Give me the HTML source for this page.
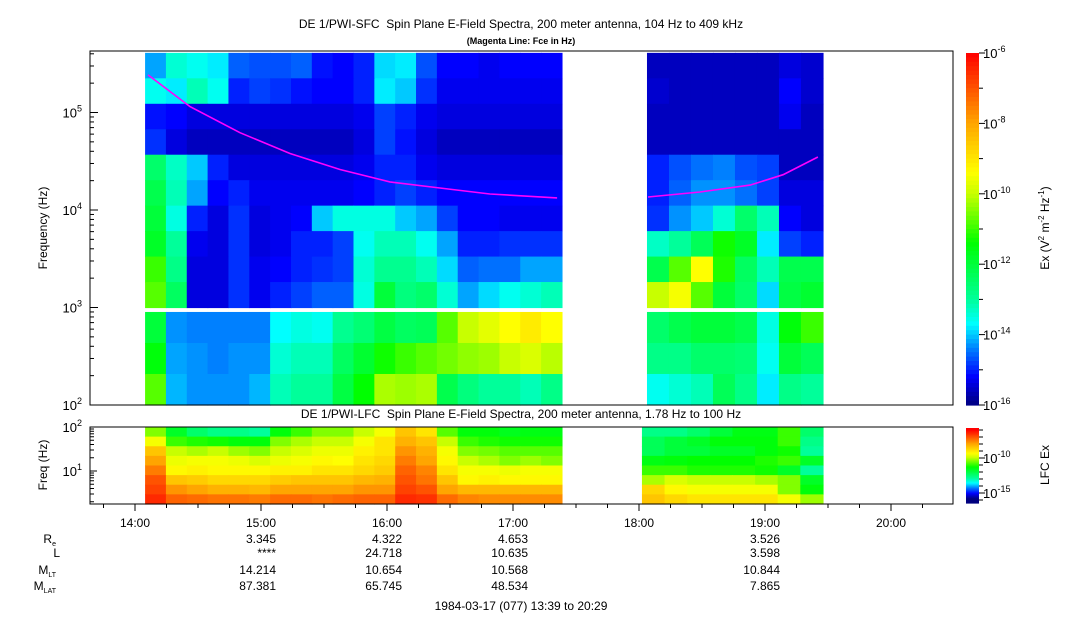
<!DOCTYPE html>
<html><head><meta charset="utf-8"><style>
html,body{margin:0;padding:0;background:#fff;}
svg{display:block;font-family:"Liberation Sans",sans-serif;}
</style></head><body>
<svg id="chart" width="1083" height="620" viewBox="0 0 1083 620">
<g id="cells"></g>
<g id="axes"></g>
</svg>
<script>
// ---- data ----
const seg1 = [4.8, 203.3];   // minutes after 14:00
const seg2 = [243.8, 327.6];
const lfcSeg2 = [241.4, 327.6];
const sfcUpperEdges = [1000, 409000];
const sfcLowerEdges = [100, 900];
const fceTimes = [6.2, 26.2, 50, 73.8, 97.6, 121.4, 145.2, 169, 201];
const fceValues = [243000, 115000, 62000, 38000, 26000, 19400, 16800, 14600, 13300];
const fceTimes2 = [244.3, 269, 292.9, 308.6, 325.2];
const fceValues2 = [13600, 15300, 18000, 23000, 35000];
const timeTicks = ["14:00","15:00","16:00","17:00","18:00","19:00","20:00"];
const ephemLabels = ["Re","L","MLT","MLAT"];
const ephemTimes = [60, 120, 180, 300];
const ephemRe = ["3.345","4.322","4.653","3.526"];
const ephemL = ["****","24.718","10.635","3.598"];
const ephemMLT = ["14.214","10.654","10.568","10.844"];
const ephemMLAT = ["87.381","65.745","48.534","7.865"];
// SFC upper band rows top->bottom (log10 power), seg1 20 cols
const sfcU1 = [
[-14.2,-13.4,-13.6,-13.8,-14.6,-14.7,-14.7,-14.6,-15.1,-15.2,-15,-13.9,-13.8,-14.7,-15.2,-15.2,-15.3,-15.2,-15.2,-15.2],
[-13.6,-13.8,-13.2,-13.6,-15,-14.8,-14.9,-15.1,-15.2,-15.2,-15,-13.8,-14,-14.9,-15.3,-15.3,-15.3,-15.3,-15.3,-15.3],
[-15.1,-15.2,-15.4,-15.4,-15.4,-15.4,-15.4,-15.4,-15.4,-15.4,-15.3,-14.8,-15,-15.3,-15.4,-15.4,-15.4,-15.4,-15.4,-15.4],
[-14.9,-15.4,-15.6,-15.6,-15.6,-15.6,-15.6,-15.6,-15.6,-15.6,-15.4,-14.8,-15.1,-15.4,-15.6,-15.6,-15.6,-15.6,-15.6,-15.6],
[-12.5,-13.3,-14,-15,-15.4,-15.4,-15.4,-15.4,-15.4,-15.4,-15.3,-15,-15,-15.3,-15.4,-15.4,-15.4,-15.4,-15.4,-15.4],
[-12.2,-13.2,-14.2,-15.2,-15,-15.3,-15.3,-15.3,-15.3,-15.3,-15.2,-15,-14.8,-15,-15.2,-15.2,-15.2,-15.2,-15.2,-15.2],
[-12,-13.5,-15,-15.4,-14.9,-15.4,-15.3,-15.2,-14,-13.5,-13.5,-13.5,-14,-14.2,-14.8,-15.2,-15.2,-15.3,-15.3,-15.3],
[-11.8,-13,-15.3,-15.4,-14.9,-15.4,-15.3,-15,-15,-14.8,-13.6,-13.2,-13.2,-13.6,-14.2,-15,-15,-14.9,-14.9,-14.9],
[-11,-12.8,-15.4,-15.4,-14.9,-15.3,-15.2,-15,-14.9,-14.8,-13.4,-12.9,-12.9,-13.2,-13.9,-14.6,-14.5,-14.5,-14.2,-14.2],
[-10.8,-12.4,-15.4,-15.4,-14.9,-15.3,-15,-14.8,-14.6,-14.6,-13.5,-12,-12.7,-12.5,-13.4,-14.2,-13.9,-13.6,-13.4,-13.2]
];
const sfcL1 = [
[-12,-14.3,-14.4,-14.4,-14.4,-14.4,-13.7,-13.5,-13.6,-12.9,-12.6,-12.1,-12.4,-12.3,-10.8,-10,-9.7,-9.4,-9.1,-9.4],
[-11.5,-14.2,-14.3,-14.4,-14.3,-14.3,-13.4,-13.2,-13.2,-12.4,-11.9,-11.3,-11,-10.8,-10.6,-10.4,-10.3,-10,-9.8,-10.1],
[-10.8,-14.1,-14.3,-14.3,-14.3,-14.1,-13.2,-13,-13,-12.1,-11.4,-10.2,-10.3,-10.2,-12.2,-12.7,-13,-13,-13.2,-12.8]
];
const sfcU2 = [
[-15.6,-15.6,-15.6,-15.6,-15.6,-15.6,-15.4,-15.5],
[-15.5,-15.6,-15.6,-15.6,-15.6,-15.6,-15.2,-15.5],
[-15.6,-15.6,-15.6,-15.6,-15.6,-15.6,-15.3,-15.6],
[-15.6,-15.6,-15.6,-15.6,-15.6,-15.6,-15.6,-15.6],
[-15,-14.7,-14.5,-14.4,-14.7,-14.8,-15.6,-15.6],
[-15,-14.6,-14.3,-14.3,-14.5,-14.8,-15.4,-15.4],
[-14.9,-14.3,-14,-13.4,-12.5,-13.2,-15.2,-15.4],
[-13.3,-13,-12.3,-11.3,-11.8,-13.8,-14.8,-15],
[-12.2,-10.8,-9.4,-11.2,-12.4,-13.2,-12.2,-12.2],
[-10,-9.5,-10.8,-12,-12.5,-13.9,-12.1,-11.9]
];
const sfcL2 = [
[-12.5,-12.2,-12,-12,-12.2,-13.5,-11.5,-11],
[-12.8,-12.8,-12.5,-12.5,-12.6,-13.6,-12,-12.3],
[-13.6,-13.4,-13.2,-12.3,-12.8,-13.8,-12.8,-13]
];
const lfc1 = [
[-10.5,-11.8,-12.5,-12.8,-12.8,-13,-11.5,-11,-10.5,-10.5,-10,-9.5,-8.5,-9,-10.8,-11.5,-11.5,-11.7,-11.6,-11.6],
[-9.5,-11,-11.2,-11.3,-11.5,-11.5,-10.5,-10.2,-10,-10,-9.5,-9,-8.2,-8.5,-10,-11,-11.2,-11.3,-11.3,-11.3],
[-8.5,-10,-10.2,-10,-10.3,-10.5,-10,-9.8,-9.6,-9.6,-9.2,-9,-7.8,-8.2,-9.5,-10.5,-10.6,-10.8,-10.8,-10.8],
[-8,-9.6,-9.5,-9.5,-9.6,-9.8,-9.6,-9.5,-9.3,-9.4,-9,-8.8,-7.5,-8,-9.3,-10,-10.2,-10.5,-10.3,-10.5],
[-7.5,-9.3,-9.2,-9.3,-9.3,-9.3,-9.2,-9.2,-9,-9,-8.8,-8.6,-7.2,-7.6,-9,-9.5,-9.5,-9.6,-9.5,-9.5],
[-7,-8.5,-8.6,-8.8,-8.8,-8.8,-8.6,-8.5,-8.5,-8.5,-8.3,-8.2,-7,-7.4,-8.5,-9.3,-9.2,-9.3,-9.3,-9.3],
[-6.8,-7.8,-8,-8.2,-8.2,-8.3,-8,-8,-8,-8,-7.8,-7.8,-6.8,-7,-8,-8.3,-8.3,-8.3,-8.3,-8.3],
[-6.5,-7.2,-7.3,-7.4,-7.4,-7.5,-7.3,-7.3,-7.4,-7.3,-7.2,-7.2,-6.5,-6.6,-7.3,-7.6,-7.7,-7.7,-7.7,-7.7]
];
const lfc2 = [
[-12.8,-12.8,-12.5,-12,-11.6,-11.6,-11,-12.5],
[-12.3,-12,-11.8,-11.5,-11.5,-11.5,-11,-12.8],
[-12.3,-12,-12,-11.8,-11.8,-11.5,-11.3,-13],
[-11.6,-11.5,-11.4,-11.4,-11.4,-11.2,-11,-11.8],
[-11,-11,-11.2,-11.2,-11.2,-11.3,-11.8,-13],
[-10.2,-9.8,-10,-10,-10,-10.2,-10.5,-11.8],
[-8.8,-9.3,-9.5,-9.5,-9.5,-9.5,-10.5,-11.5],
[-8.5,-8.8,-9,-9,-9,-9,-9.5,-10.3]
];
const lfcEdges = [1.78, 100];

// ---- scales ----
const X0=90, X1=953;
const xT = t => 135 + t/60*126;            // minutes after 14:00
const yF = f => 405 - (Math.log10(f)-2)*97.5; // SFC panel
const yL = f => 471 - (Math.log10(f)-1)*44;   // LFC panel
const stops=[[-16,[0,0,127]],[-15.2,[0,0,255]],[-14.4,[0,128,255]],[-13.7,[0,255,255]],[-13,[0,255,154]],[-11.4,[0,255,0]],[-10,[200,255,0]],[-9.4,[255,255,0]],[-8,[255,165,0]],[-6,[255,0,0]]];
function cmap(v){
  if(v<=stops[0][0]) return 'rgb('+stops[0][1]+')';
  for(let i=1;i<stops.length;i++){
    if(v<=stops[i][0]){const a=stops[i-1],b=stops[i],f=(v-a[0])/(b[0]-a[0]);
      return 'rgb('+a[1].map((c,k)=>Math.round(c+(b[1][k]-c)*f)).join(',')+')';}
  }
  return 'rgb(255,0,0)';
}
const NS='http://www.w3.org/2000/svg';
const cells=document.getElementById('cells'), axes=document.getElementById('axes');
function mk(tag,attrs,parent){const e=document.createElementNS(NS,tag);for(const k in attrs)e.setAttribute(k,attrs[k]);(parent||axes).appendChild(e);return e;}

function drawGrid(mat, seg, fLo, fHi, yfun, name){
  const nr=mat.length, nc=mat[0].length;
  const lLo=Math.log10(fLo), lHi=Math.log10(fHi);
  for(let r=0;r<nr;r++){
    const fa=Math.pow(10, lHi-(lHi-lLo)*r/nr), fb=Math.pow(10, lHi-(lHi-lLo)*(r+1)/nr);
    const ya=yfun(fa), yb=yfun(fb);
    for(let c=0;c<nc;c++){
      const xa=xT(seg[0]+(seg[1]-seg[0])*c/nc), xb=xT(seg[0]+(seg[1]-seg[0])*(c+1)/nc);
      const e=mk('rect',{x:xa.toFixed(2),y:ya.toFixed(2),width:(xb-xa+0.6).toFixed(2),height:(yb-ya+0.6).toFixed(2),fill:cmap(mat[r][c])},cells);
      
      
    }
  }
}
drawGrid(sfcU1, seg1, sfcUpperEdges[0], sfcUpperEdges[1], yF, 'sfc-cell');
drawGrid(sfcL1, seg1, sfcLowerEdges[0], sfcLowerEdges[1], yF, 'sfc-cell');
drawGrid(sfcU2, seg2, sfcUpperEdges[0], sfcUpperEdges[1], yF, 'sfc-cell');
drawGrid(sfcL2, seg2, sfcLowerEdges[0], sfcLowerEdges[1], yF, 'sfc-cell');
drawGrid(lfc1, seg1, lfcEdges[0], lfcEdges[1], yL, 'lfc-cell');
drawGrid(lfc2, lfcSeg2, lfcEdges[0], lfcEdges[1], yL, 'lfc-cell');

// Fce lines
function fceLine(ts, vs){
  const d=ts.map((t,i)=>(i?'L':'M')+xT(t).toFixed(1)+','+yF(vs[i]).toFixed(1)).join(' ');
  const p=mk('path',{d:d,fill:'none',stroke:'#ff00ff','stroke-width':1.6});
  
  
}
fceLine(fceTimes, fceValues);
fceLine(fceTimes2, fceValues2);

// frames
mk('rect',{x:X0,y:51,width:X1-X0,height:354,fill:'none',stroke:'#000','stroke-width':1});
mk('rect',{x:X0,y:427,width:X1-X0,height:77,fill:'none',stroke:'#000','stroke-width':1});

function txt(s,x,y,opt){const e=mk('text',Object.assign({x:x,y:y,'font-size':12,fill:'#000'},opt||{}));e.textContent=s;return e;}
function sup(base,exp,x,y,anchor,name){
  const e=mk('text',{x:x,y:y,'font-size':13,'text-anchor':anchor||'end'});
  
  
  const a=mk('tspan',{},e);a.textContent=base;
  const b=mk('tspan',{dy:-6,'font-size':9},e);b.textContent=exp;
  return e;
}
// SFC y ticks
for(let d=2;d<=5;d++){
  const y=yF(Math.pow(10,d));
  mk('line',{x1:X0,x2:X0+8,y1:y,y2:y,stroke:'#000'});
  sup('10',String(d),82,y+5,'end','sfc-y-tick-label');
  for(let m=2;m<10;m++){const f=m*Math.pow(10,d); if(f>409000)break; const yy=yF(f); mk('line',{x1:X0,x2:X0+4,y1:yy,y2:yy,stroke:'#000'});}
}
// LFC y ticks
[1,2].forEach(d=>{const y=yL(Math.pow(10,d)); mk('line',{x1:X0,x2:X0+7,y1:y,y2:y,stroke:'#000'}); sup('10',String(d),82,y+5,'end','lfc-y-tick-label');});
for(let d=0;d<2;d++)for(let m=2;m<10;m++){const f=m*Math.pow(10,d);if(f<1.78)continue;const y=yL(f);mk('line',{x1:X0,x2:X0+4,y1:y,y2:y,stroke:'#000'});}
// x ticks
for(let t=-15;t<=390;t+=15){const x=xT(t); if(x<X0||x>X1)continue; const major=t%60===0;
  mk('line',{x1:x,x2:x,y1:504,y2:504+(major?7:4),stroke:'#000'});}
timeTicks.forEach((s,i)=>{const e=txt(s,xT(i*60),527,{'text-anchor':'middle'});});
// ephemeris
const ey=[543,557,574,590];
const subs=["e","","LT","LAT"], bases=["R","L","M","M"];
ephemLabels.forEach((l,i)=>{const e=mk('text',{x:subs[i]?56:60,y:ey[i],'font-size':12,'text-anchor':'end'});
  
  const a=mk('tspan',{},e);a.textContent=bases[i];
  if(subs[i]){const b=mk('tspan',{dy:3,'font-size':7},e);b.textContent=subs[i];}});
[ephemRe,ephemL,ephemMLT,ephemMLAT].forEach((arr,r)=>arr.forEach((v,i)=>{const e=txt(v,xT(ephemTimes[i])+15,ey[r],{'text-anchor':'end'});}));
// titles
txt('DE 1/PWI-SFC\u00a0 Spin Plane E-Field Spectra, 200 meter antenna, 104 Hz to 409 kHz',521,28,{'text-anchor':'middle'});
txt('(Magenta Line: Fce in Hz)',521,44,{'text-anchor':'middle','font-size':9,'font-weight':'bold'});
txt('DE 1/PWI-LFC\u00a0 Spin Plane E-Field Spectra, 200 meter antenna, 1.78 Hz to 100 Hz',521,418,{'text-anchor':'middle'});
txt('1984-03-17 (077) 13:39 to 20:29',521,610,{'text-anchor':'middle'});
txt('Frequency (Hz)',0,0,{'text-anchor':'middle',transform:'translate(47,228) rotate(-90)'});
txt('Freq (Hz)',0,0,{'text-anchor':'middle',transform:'translate(47,465) rotate(-90)'});
// colorbars
function cbar(y0,y1,vTop,vBot,name){
  const n=80;
  for(let i=0;i<n;i++){const v=vTop-(vTop-vBot)*(i+0.5)/n;
    const e=mk('rect',{x:966,y:(y0+(y1-y0)*i/n).toFixed(2),width:13,height:((y1-y0)/n+0.6).toFixed(2),fill:cmap(v)});
    
    }
}
cbar(53,405,-6,-16,'sfc-colorbar');
cbar(428,503,-5.7,-16.6,'lfc-colorbar');
for(let k=0;k<=10;k++){const y=53+k*35.2;mk('line',{x1:979,x2:(k%2?983:985),y1:y,y2:y,stroke:'#000'});
  if(k%2===0) sup('10','-'+(6+k),983,y+5,'start','colorbar-tick-label');}
for(let v=-6;v>=-16;v--){const y=458-(v+10)*7;if(y<428||y>503)continue;mk('line',{x1:979,x2:(v%5===0?985:983),y1:y,y2:y,stroke:'#000'});}
sup('10','-10',983,463,'start','lfc-colorbar-tick-label');
sup('10','-15',983,498,'start','lfc-colorbar-tick-label');
const ct=mk('text',{'font-size':12,'text-anchor':'middle',transform:'translate(1049,228) rotate(-90)'});

[['Ex (V',0,12],['2',-5,8],[' m',5,12],['-2',-5,8],[' Hz',5,12],['-1',-5,8],[')',5,12]].forEach(p=>{const s=mk('tspan',{dy:p[1],'font-size':p[2]},ct);s.textContent=p[0];});
txt('LFC Ex',0,0,{'text-anchor':'middle',transform:'translate(1049,465) rotate(-90)'});
</script>
</body></html>
